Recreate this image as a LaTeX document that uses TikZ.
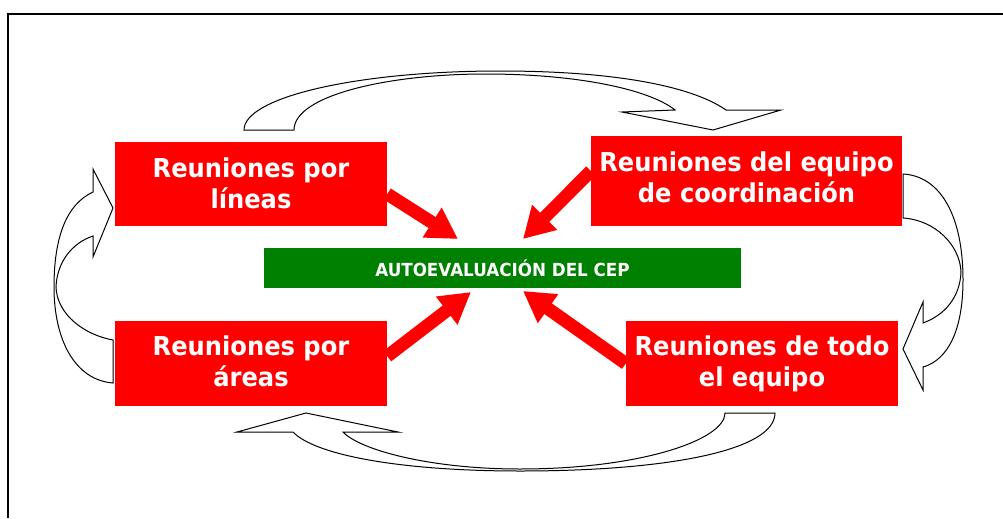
\documentclass[tikz,border=0pt]{standalone}
\usepackage{fontspec}
\setmainfont{DejaVu Sans}[FakeStretch=0.93]
\usetikzlibrary{arrows.meta}
\definecolor{boxred}{RGB}{255,0,0}
\definecolor{boxgreen}{RGB}{0,128,0}

\begin{document}
\begin{tikzpicture}[x=0.75pt, y=-0.75pt,
        redbox/.style={fill=boxred, text=white, inner sep=0pt, align=center,
                font=\fontsize{19.5}{23.25}\selectfont\bfseries},
        greenbox/.style={fill=boxgreen, text=white, inner sep=0pt,
                font=\fontsize{13.5}{15}\selectfont\bfseries},
        redarrow/.style={draw=boxred, line width=9.75pt, -{Triangle[length=23pt, width=25pt]}},
        blockarrow/.style={draw=black, fill=white, line width=0.75pt, line join=miter}]
        \useasboundingbox (0,0) rectangle (1003,518);

        \coordinate (framebl) at (7.5,518);
        \coordinate (frametl) at (7.5,14);
        \coordinate (frametr) at (1003,14);
        \draw[line width=1.5pt] (framebl) -- (frametl) -- (frametr);

        % curved block arrows
        \path[blockarrow] (244,130) -- (294,130)
                .. controls (294,95) and (390,74) .. (485,74)
                .. controls (580,74) and (650,90) .. (675,110)
                -- (622,112) -- (713,130) -- (781,110) -- (726,110)
                .. controls (690,85) and (610,71) .. (500,71)
                .. controls (358,71) and (244,97) .. cycle;
        \path[blockarrow] (903,174) -- (903,218)
                .. controls (935,220) and (960,245) .. (961,272)
                .. controls (960,297) and (945,315) .. (923,323)
                -- (923,302) -- (903,349) -- (923,390) -- (923,367)
                .. controls (948,360) and (963,330) .. (963,280)
                .. controls (963,215) and (940,176) .. cycle;
        \path[blockarrow] (775,413) -- (725,413)
                .. controls (725,440) and (640,469) .. (520,469)
                .. controls (430,469) and (360,450) .. (343,432)
                -- (398,432) -- (306,413) -- (237,432) -- (293,432)
                .. controls (315,455) and (400,471) .. (520,471)
                .. controls (670,471) and (775,450) .. cycle;
        \path[blockarrow] (113,383) -- (113,340)
                .. controls (85,335) and (57,315) .. (56,287)
                .. controls (57,262) and (72,243) .. (93,236)
                -- (93,257) -- (113,208) -- (93,169) -- (93,192)
                .. controls (65,205) and (54,240) .. (54,287)
                .. controls (54,340) and (75,380) .. cycle;

        \node[redbox, minimum width=204pt, minimum height=63pt, text depth=2pt] (lineas) at (251,184) {Reuniones por\\líneas};
        \node[redbox, minimum width=233pt, minimum height=67.5pt, text depth=6pt] (coord) at (746.5,181) {Reuniones del equipo\\de coordinación};
        \node[redbox, minimum width=204pt, minimum height=64pt, text depth=3pt] (areas) at (251,363.5) {Reuniones por\\áreas};
        \node[redbox, minimum width=204pt, minimum height=64pt] (todo) at (762,363.5) {Reuniones de todo\\el equipo};
        \node[greenbox, minimum width=358pt, minimum height=30pt] (autoeval) at (502.5,268) {AUTOEVALUACIÓN DEL CEP};

        \coordinate (tiplineas) at (458,239);
        \coordinate (tipcoord) at (523,239);
        \coordinate (tipareas) at (471,292);
        \coordinate (tiptodo) at (523,291);
        \draw[redarrow] ([yshift=-7.5pt]lineas.east) -- (tiplineas);
        \draw[redarrow] ([yshift=7.5pt]coord.west) -- (tipcoord);
        \draw[redarrow] ([yshift=5.5pt]areas.east) -- (tipareas);
        \draw[redarrow] (todo.west) -- (tiptodo);
\end{tikzpicture}
\end{document}
